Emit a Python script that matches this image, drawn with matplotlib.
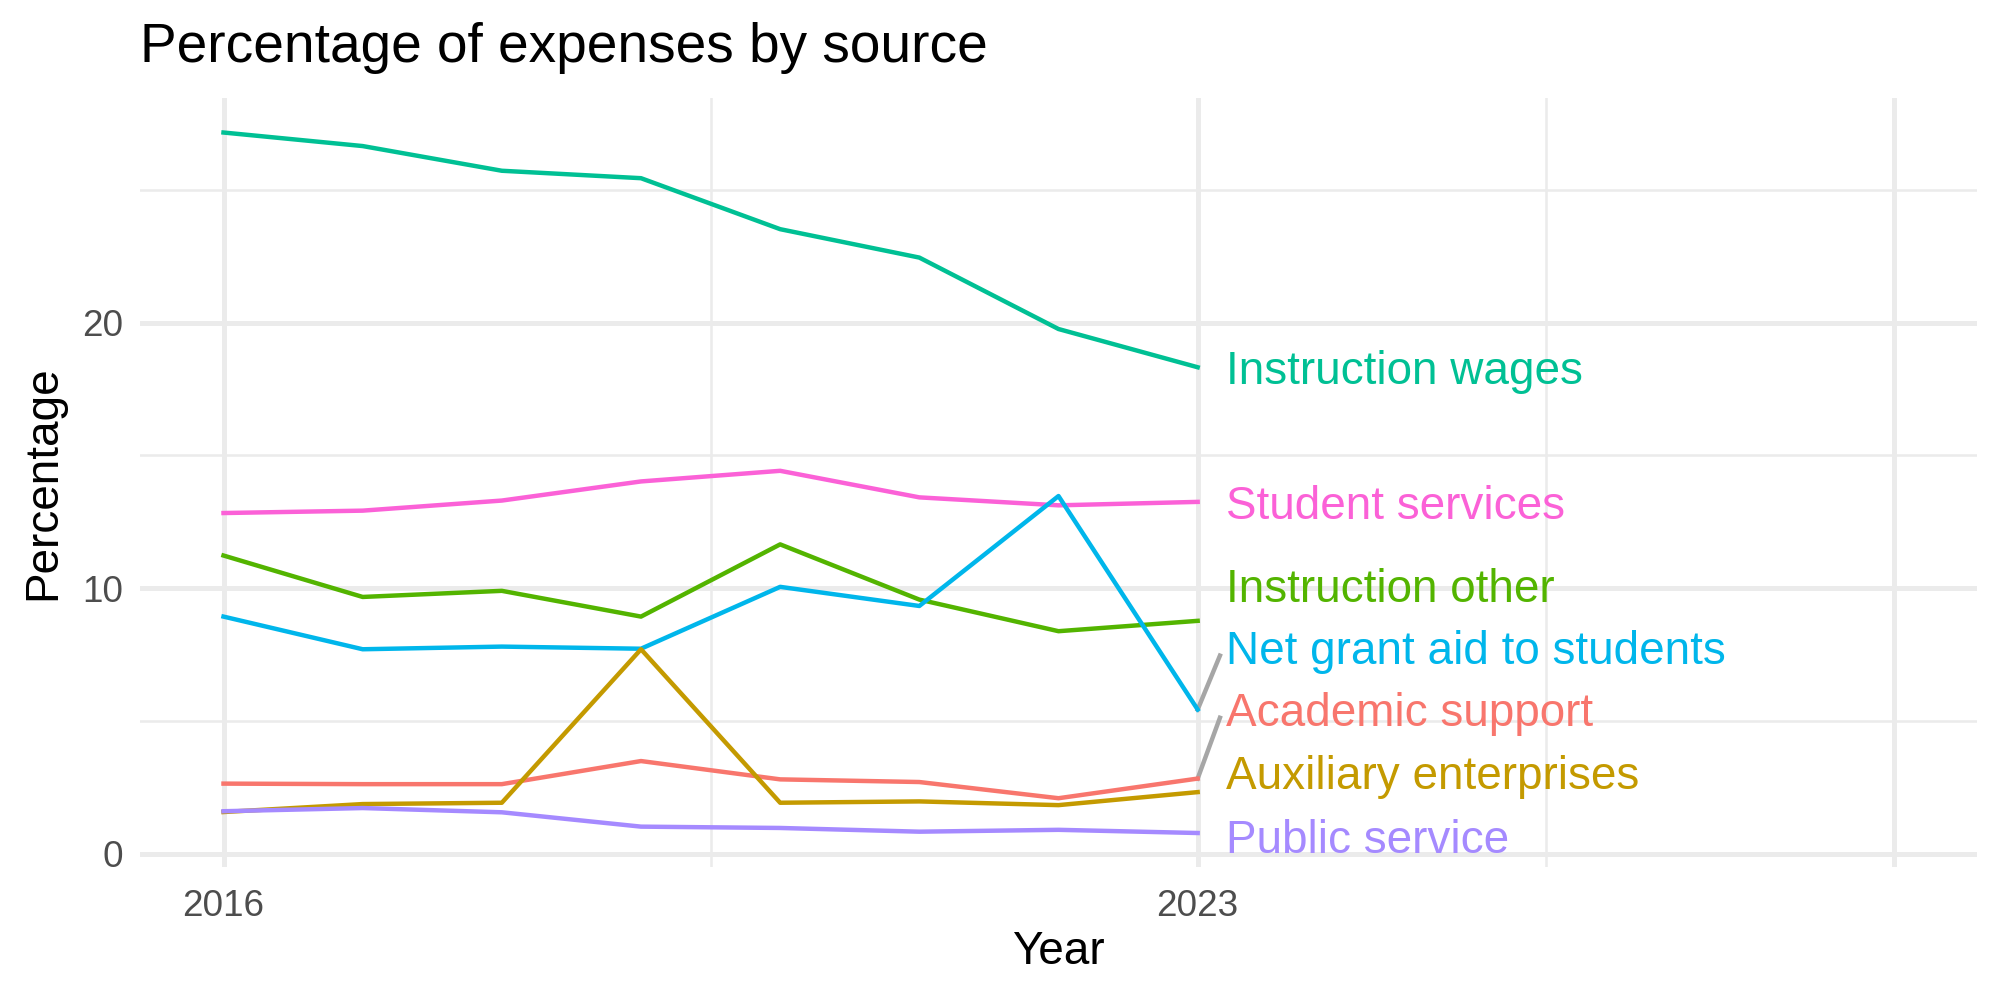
import matplotlib.pyplot as plt

plt.rcParams['font.family'] = ['Liberation Sans', 'DejaVu Sans']

years = [2016, 2017, 2018, 2019, 2020, 2021, 2022, 2023]

instr_wages  = [27.16, 26.65, 25.72, 25.44, 23.52, 22.45, 19.76, 18.32]
student_serv = [12.83, 12.92, 13.30, 14.02, 14.42, 13.42, 13.12, 13.25]
instr_other  = [11.23, 9.67, 9.90, 8.93, 11.65, 9.57, 8.38, 8.77]
net_grant    = [8.93, 7.70, 7.80, 7.72, 10.05, 9.33, 13.47, 5.43]
acad_support = [2.64, 2.62, 2.62, 3.49, 2.80, 2.70, 2.09, 2.83]
auxiliary    = [1.57, 1.87, 1.92, 7.70, 1.92, 1.97, 1.83, 2.32]
public_serv  = [1.60, 1.72, 1.56, 1.02, 0.97, 0.83, 0.90, 0.78]

names = ['Instruction wages', 'Student services', 'Instruction other',
         'Net grant aid to students', 'Academic support',
         'Auxiliary enterprises', 'Public service']
series = [instr_wages, student_serv, instr_other, net_grant,
          acad_support, auxiliary, public_serv]
colors = ['#00C094', '#FB61D7', '#53B400', '#00B6EB', '#F8766D',
          '#C49A00', '#A58AFF']
# label y positions after repelling
label_y = [18.30, 13.22, 10.10, 7.74, 5.40, 3.03, 0.63]

fig = plt.figure(figsize=(10, 5), dpi=200)
ax = fig.add_axes([0.07, 0.133, 0.9185, 0.769])

for vals, col in zip(series, colors):
    ax.plot(years, vals, color=col, lw=1.6, zorder=3)

for name, vals, col, ly in zip(names, series, colors, label_y):
    ax.text(2023.2, ly - 0.15, name, color=col, fontsize=16.5,
            va='center', ha='left', zorder=4)
    # connector segment for labels pushed away from their line end
    if abs(ly - vals[-1]) > 1.5:
        ax.plot([2023, 2023.16], [vals[-1], ly - 0.28],
                color='#A6A6A6', lw=1.6, zorder=2)

ax.set_xlim(2015.4, 2028.6)
ax.set_ylim(-0.5, 28.46)
ax.set_xticks([2016, 2023, 2028])
ax.set_xticklabels(['2016', '2023', ''])
ax.set_xticks([2019.5, 2025.5], minor=True)
ax.set_yticks([0, 10, 20])
ax.set_yticks([5, 15, 25], minor=True)

ax.grid(True, which='major', color='#EBEBEB', lw=1.8)
ax.grid(True, which='minor', color='#EBEBEB', lw=0.9)
ax.set_axisbelow(True)
for s in ax.spines.values():
    s.set_visible(False)
ax.tick_params(which='both', length=0)
ax.tick_params(axis='both', labelsize=13.3, labelcolor='#4D4D4D')
ax.tick_params(axis='x', pad=8)
ax.tick_params(axis='y', pad=6)

ax.set_xlabel('Year', fontsize=16.5, labelpad=2)
ax.set_ylabel('Percentage', fontsize=16.5, labelpad=6)
fig.text(0.07, 0.952, 'Percentage of expenses by source', fontsize=19.8,
         va='center', ha='left')

fig.savefig('out.png', dpi=200, facecolor='white')
